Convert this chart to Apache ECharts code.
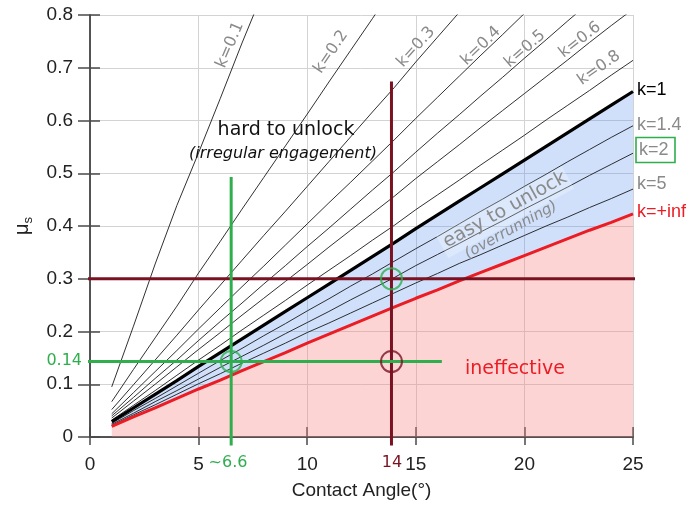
<!DOCTYPE html>
<html>
<head>
<meta charset="utf-8">
<script src="https://cdn.jsdelivr.net/npm/echarts@6/dist/echarts.min.js"></script>
<style>
html,body{margin:0;padding:0;background:#fff;}
#chart{width:694px;height:507px;}
</style>
</head>
<body>
<div id="chart"></div>
<script>
// ---------- data ----------
const angles = [1,2,3,4,5,6,7,8,9,10,11,12,13,14,15,16,17,18,19,20,21,22,23,24,25];

const muInf = [0.020,0.038,0.055,0.073,0.091,0.108,0.126,0.143,0.160,0.178,0.195,0.212,0.229,0.246,0.263,0.279,0.296,0.312,0.328,0.344,0.360,0.376,0.392,0.407,0.423];
const muK5  = [0.022,0.042,0.061,0.081,0.101,0.120,0.140,0.159,0.178,0.198,0.216,0.235,0.254,0.273,0.292,0.310,0.329,0.346,0.364,0.382,0.400,0.417,0.435,0.452,0.470];
const muK2  = [0.024,0.045,0.067,0.088,0.110,0.132,0.153,0.174,0.196,0.217,0.238,0.260,0.281,0.302,0.325,0.346,0.367,0.389,0.410,0.432,0.453,0.474,0.496,0.517,0.538];
const muK14 = [0.026,0.050,0.073,0.097,0.121,0.145,0.168,0.192,0.215,0.239,0.262,0.286,0.309,0.333,0.357,0.380,0.404,0.428,0.451,0.475,0.498,0.522,0.545,0.568,0.590];
const muK1  = [0.029,0.055,0.081,0.107,0.134,0.160,0.186,0.212,0.238,0.264,0.290,0.316,0.342,0.368,0.395,0.421,0.447,0.473,0.499,0.525,0.551,0.577,0.603,0.629,0.655];
const muK08 = [0.032,0.060,0.088,0.117,0.146,0.174,0.203,0.231,0.259,0.288,0.316,0.344,0.373,0.401,0.431,0.459,0.487,0.516,0.544,0.572,0.601,0.629,0.657,0.686,0.714];
const muK06 = [0.036,0.068,0.100,0.133,0.166,0.198,0.231,0.263,0.295,0.327,0.360,0.392,0.424,0.456,0.490,0.522,0.554,0.587,0.619,0.651,0.683,0.715,0.748,0.780,0.811];
const muK05 = [0.040,0.075,0.111,0.146,0.183,0.219,0.254,0.290,0.325,0.361,0.396,0.432,0.468,0.503,0.540,0.576,0.611,0.647,0.682,0.718,0.753,0.789,0.824];
const muK04 = [0.044,0.084,0.124,0.164,0.205,0.245,0.285,0.324,0.364,0.404,0.444,0.483,0.523,0.563,0.604,0.644,0.684,0.724,0.763,0.803,0.843];
const muK03 = [0.052,0.099,0.146,0.193,0.241,0.288,0.335,0.382,0.428,0.475,0.522,0.569,0.616,0.662,0.711,0.758,0.805];
const muK02 = [0.067,0.128,0.188,0.248,0.311,0.371,0.432,0.492,0.552,0.612,0.673,0.733,0.793,0.854];
const muK01 = [0.095,0.210,0.328,0.439,0.539,0.642,0.747,0.847];

const thinCurves = [muK01, muK02, muK03, muK04, muK05, muK06, muK08, muK14, muK2, muK5];

// reference markers
const markAngles = [13.88, 6.5];      // "14" and "~6.6"
const markMus = [0.3, 0.143];         // 0.3 and "0.14"

// ---------- chart ----------
const chart = echarts.init(document.getElementById('chart'), null, {renderer:'canvas'});
const pairs = (ys) => ys.map((v,i)=>[angles[i], v]);

const AX = '#4a4a4a';
const GREEN = '#2fae4e';
const MAROON = '#7a1222';
const RED = '#ec1c24';
const GRAY = '#8a8a8a';

const series = [];
// fills drawn as polygons through the axis scales
function polySeries(upper, lower, color){
  return {
    type:'custom', silent:true, z:1, data: angles.map((a,i)=>[a, upper[i]]),
    encode:{x:0, y:1},
    renderItem:function(params, api){
      if (params.dataIndex !== 0) return null;
      const pts = [];
      for (let i=0;i<angles.length;i++) pts.push(api.coord([angles[i], upper[i]]));
      for (let i=angles.length-1;i>=0;i--) pts.push(api.coord([angles[i], lower ? lower[i] : 0]));
      return {type:'polygon', shape:{points:pts}, style:{fill:color}};
    }
  };
}
series.push(polySeries(muInf, null, 'rgba(248,128,128,0.34)'));
series.push(polySeries(muK1, muInf, 'rgba(80,140,240,0.27)'));

// thin curves
thinCurves.forEach(c=>{
  series.push({type:'line', data:pairs(c), showSymbol:false, silent:true,
    lineStyle:{color:'#1a1a1a', width:0.9}, z:6});
});
// k=1 thick
series.push({type:'line', data:pairs(muK1), showSymbol:false, silent:true,
  lineStyle:{color:'#000', width:3.2}, z:7});
// k=inf red
series.push({type:'line', data:pairs(muInf), showSymbol:false, silent:true,
  lineStyle:{color:RED, width:3}, z:7});

// reference lines (extend beyond plot)
const ref = (data,color)=>({type:'line', data, showSymbol:false, silent:true, clip:false,
  lineStyle:{color, width:3}, z:8});
series.push(ref([[-0.55, markMus[0]],[25.6, markMus[0]]], MAROON));
series.push(ref([[markAngles[0], 0.674],[markAngles[0], -0.016]], MAROON));
series.push(ref([[markAngles[1], 0.493],[markAngles[1], -0.016]], GREEN));
series.push(ref([[-0.1, markMus[1]],[16.2, markMus[1]]], GREEN));

// circles
series.push({type:'scatter', silent:true, z:9, symbol:'circle', symbolSize:21,
  data:[[markAngles[0], markMus[0]],[markAngles[1], markMus[1]]],
  itemStyle:{color:'rgba(0,0,0,0)', borderColor:GREEN, borderWidth:2}});
series.push({type:'scatter', silent:true, z:9, symbol:'circle', symbolSize:21,
  data:[[markAngles[0], markMus[1]]],
  itemStyle:{color:'rgba(0,0,0,0)', borderColor:MAROON, borderWidth:2}});

const tickStyle = {color:AX, width:1.5};
const gridLine = {show:true, lineStyle:{color:'#d3d3d3', width:1}};
const option = {
  animation:false,
  backgroundColor:'#fff',
  grid:{left:90, right:61, top:15, bottom:70, containLabel:false},
  xAxis:[{
    type:'value', min:0, max:25, interval:5, position:'bottom',
    name:'Contact Angle(°)', nameLocation:'middle', nameGap:44,
    nameTextStyle:{fontSize:19, color:'#222', fontFamily:'Liberation Sans'},
    axisLine:{show:true, lineStyle:tickStyle},
    axisTick:{show:true, inside:false, length:8, lineStyle:tickStyle},
    axisLabel:{fontSize:19, color:'#222', fontFamily:'Liberation Sans', margin:18},
    splitLine:gridLine
  },{
    type:'value', min:0, max:25, interval:5, position:'top',
    axisLine:{show:true, lineStyle:tickStyle},
    axisTick:{show:true, inside:false, length:10, lineStyle:tickStyle},
    axisLabel:{show:false}, splitLine:{show:false}
  }],
  yAxis:[{
    type:'value', min:0, max:0.8, interval:0.1, position:'left',
    name:'{m|μ}{s|s}', nameLocation:'middle', nameGap:58, nameRotate:90,
    nameTextStyle:{color:'#222', fontFamily:'Liberation Sans',
      rich:{m:{fontSize:20, fontFamily:'Liberation Sans', color:'#222', verticalAlign:'top', lineHeight:20},
            s:{fontSize:13, fontFamily:'Liberation Sans', color:'#222', lineHeight:13, padding:[13,0,0,0]}}},
    axisLine:{show:true, lineStyle:tickStyle},
    axisTick:{show:true, inside:false, length:12, lineStyle:tickStyle},
    axisLabel:{fontSize:19, color:'#222', fontFamily:'Liberation Sans', margin:17,
      formatter:(v)=>String(Math.round(v*10)/10)},
    splitLine:gridLine
  },{
    type:'value', min:0, max:0.8, interval:0.1, position:'right',
    axisLine:{show:true, lineStyle:tickStyle},
    axisTick:{show:true, inside:false, length:10, lineStyle:tickStyle},
    axisLabel:{show:false}, splitLine:{show:false}
  }],
  series: series
};
chart.setOption(option);

// ---------- annotations ----------
const DJ = "'DejaVu Sans', Verdana, sans-serif";
const LS = "'Liberation Sans', Arial, sans-serif";
function txt(x,y,text,fill,font,rotDeg,align){
  return {type:'text', x:x, y:y, rotation:(rotDeg||0)*Math.PI/180, z:100, silent:true,
    style:{text:text, fill:fill, font:font, textAlign:align||'center', textVerticalAlign:'middle',
           align:align||'center', verticalAlign:'middle'}};
}
const gfx = [
  txt(286,130,'hard to unlock','#111','19px '+DJ),
  txt(283,154,'(irregular engagement)','#111','italic 16px '+DJ),
  {type:'rect', z:99, silent:true, x:505, y:212, rotation:29*Math.PI/180,
   shape:{x:-72, y:-13, width:144, height:26}, style:{fill:'rgba(255,255,255,0.25)'}},
  txt(505,210,'easy to unlock',GRAY,'19px '+DJ,29),
  txt(511,230,'(overrunning)',GRAY,'italic 15px '+DJ,29),
  txt(515,369,'ineffective',RED,'19px '+DJ),
  txt(230,45,'k=0.1',GRAY,'16px '+DJ,67),
  txt(331,52,'k=0.2',GRAY,'16px '+DJ,56),
  txt(416,47,'k=0.3',GRAY,'16px '+DJ,48),
  txt(481,46,'k=0.4',GRAY,'16px '+DJ,44),
  txt(525,49,'k=0.5',GRAY,'16px '+DJ,41),
  txt(580,40,'k=0.6',GRAY,'16px '+DJ,38),
  txt(599,68,'k=0.8',GRAY,'16px '+DJ,35),
  txt(637,90,'k=1','#000','18px '+LS,0,'left'),
  txt(637,125,'k=1.4',GRAY,'18px '+LS,0,'left'),
  txt(639,150,'k=2',GRAY,'18px '+LS,0,'left'),
  txt(637,184,'k=5',GRAY,'18px '+LS,0,'left'),
  txt(637,212,'k=+inf',RED,'18px '+LS,0,'left'),
  txt(82,361,'0.14',GREEN,'16px '+DJ,0,'right'),
  txt(228,463,'~6.6',GREEN,'16px '+DJ),
  txt(392,463,'14',MAROON,'16px '+DJ),
  {type:'rect', z:100, silent:true, shape:{x:636, y:137.5, width:39, height:25},
   style:{fill:'none', stroke:GREEN, lineWidth:1.6}}
];
chart.setOption({graphic:gfx});
</script>
</body>
</html>
